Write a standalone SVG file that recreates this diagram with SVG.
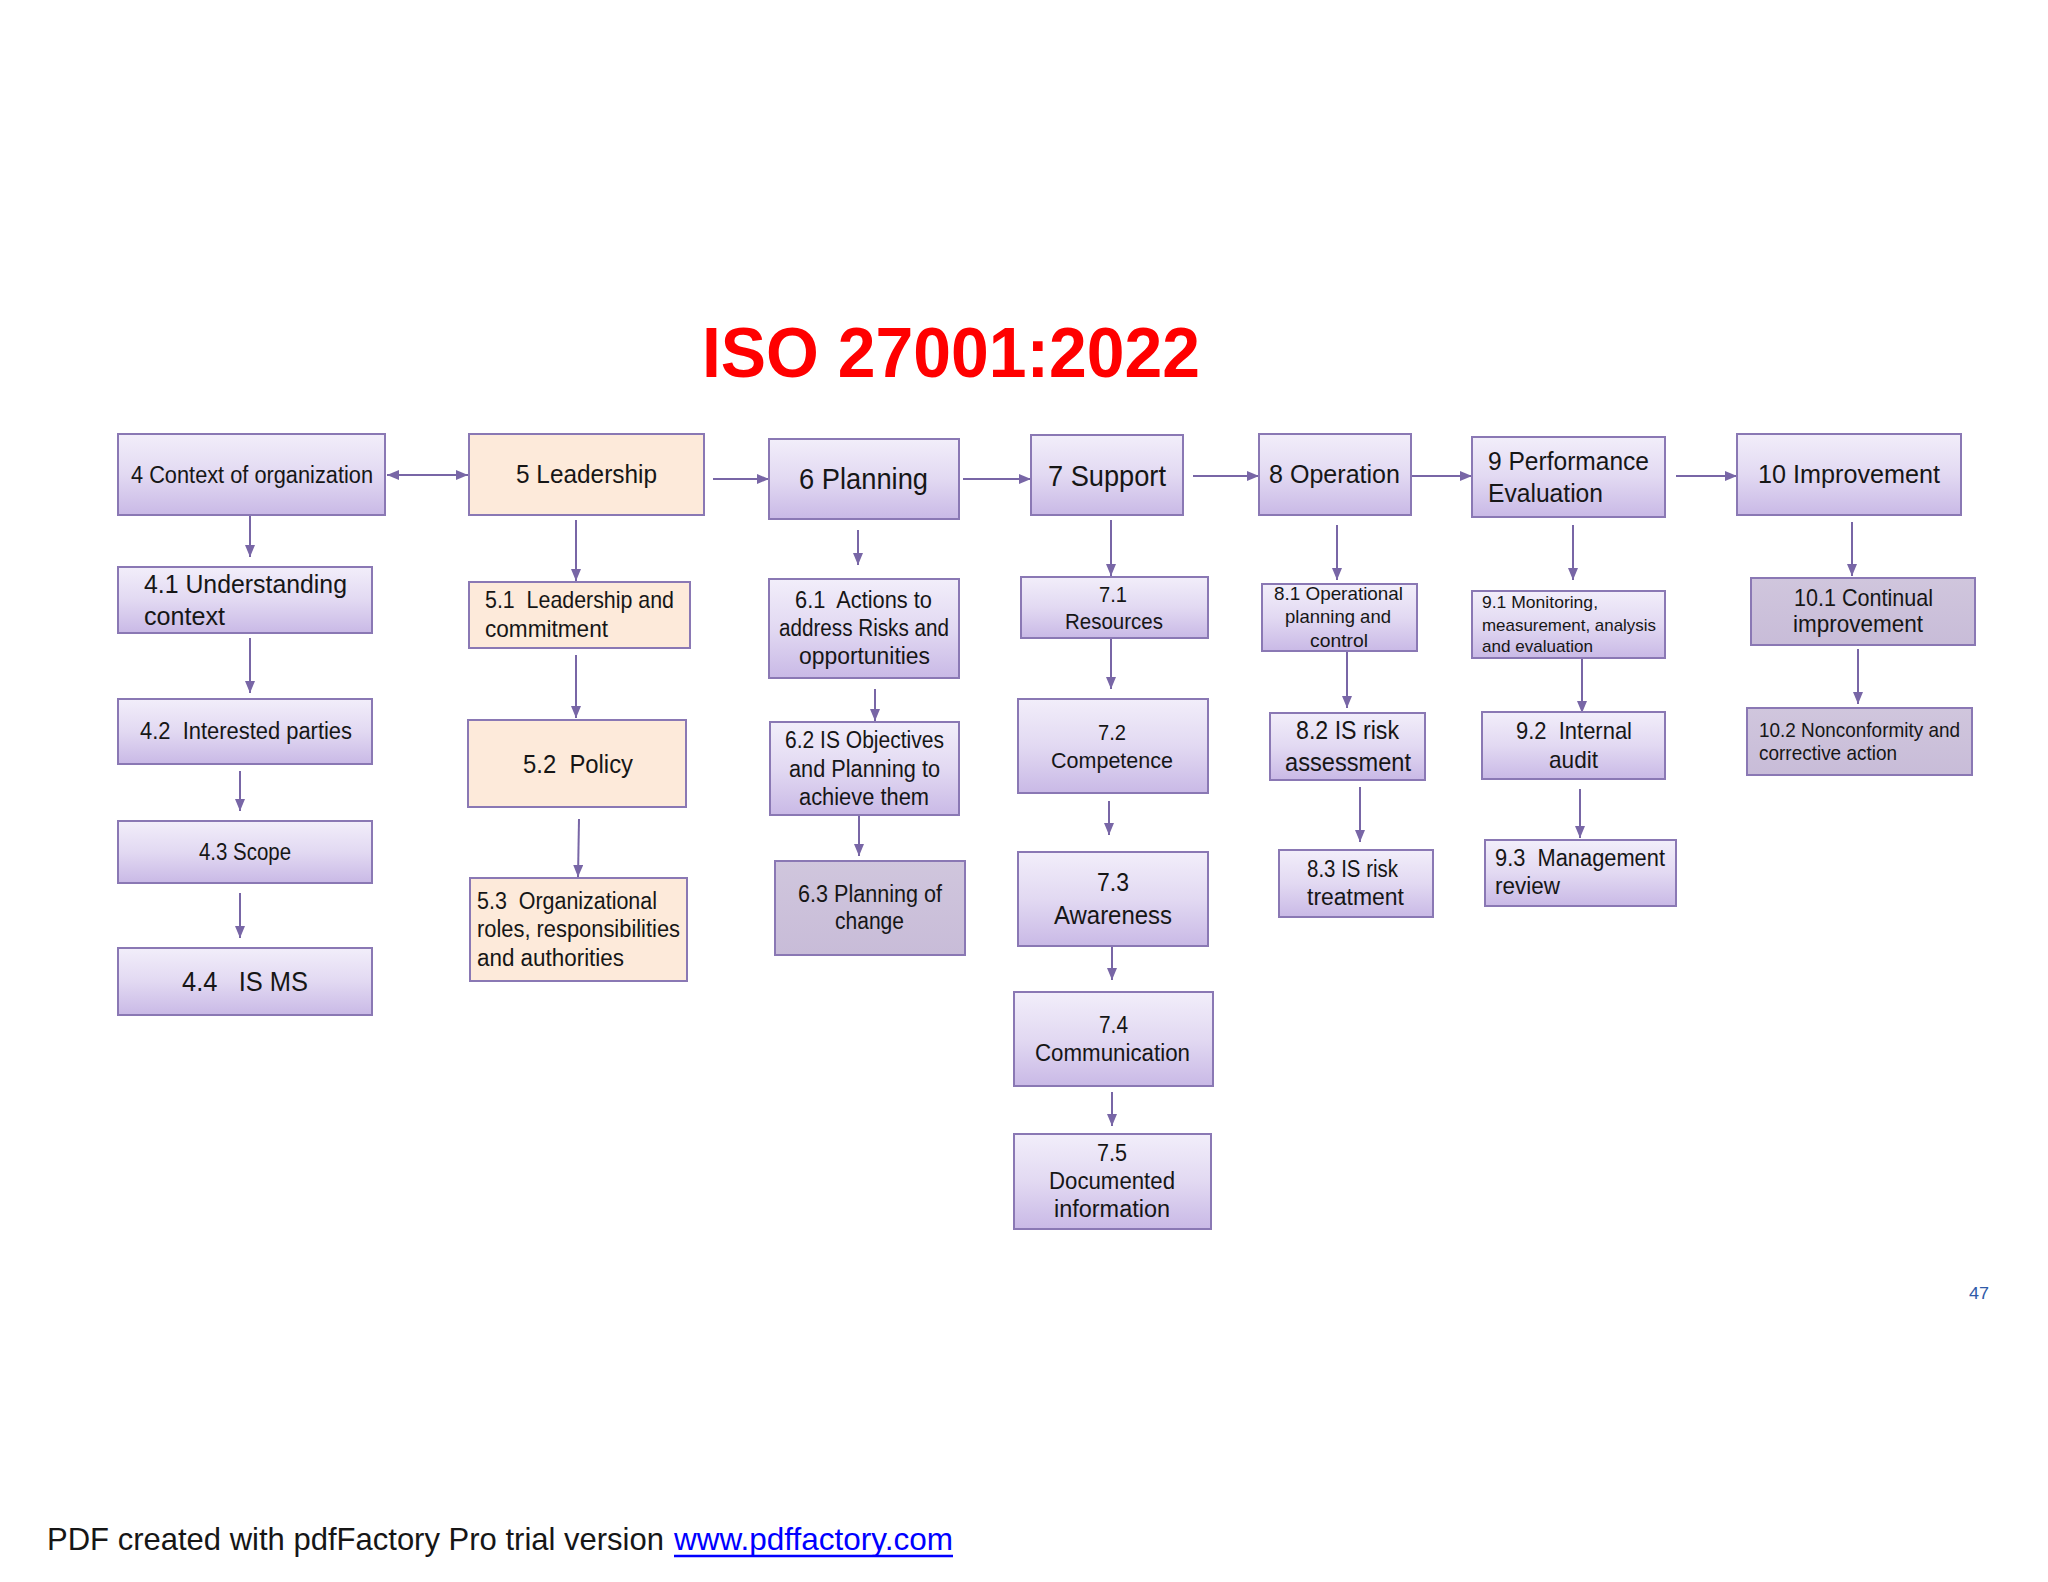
<svg xmlns="http://www.w3.org/2000/svg" width="2048" height="1582" viewBox="0 0 2048 1582">
<defs>
<linearGradient id="gp" x1="0" y1="0" x2="0" y2="1">
<stop offset="0" stop-color="#F2EEFA"/>
<stop offset="0.5" stop-color="#E2D9F2"/>
<stop offset="1" stop-color="#C9B9E6"/>
</linearGradient>
<linearGradient id="gg" x1="0" y1="0" x2="0" y2="1">
<stop offset="0" stop-color="#D0C6DD"/>
<stop offset="1" stop-color="#C8BCD8"/>
</linearGradient>
<marker id="ah" viewBox="0 0 12 10" refX="12" refY="5" markerWidth="12" markerHeight="10" markerUnits="userSpaceOnUse" orient="auto-start-reverse">
<path d="M0,0 L12,5 L0,10 z" fill="#7866A6"/>
</marker>
</defs>
<style>
.p{fill:url(#gp);stroke:#8A78B4;stroke-width:2}
.o{fill:#FDEADA;stroke:#8A78B4;stroke-width:2}
.g{fill:url(#gg);stroke:#8A78B4;stroke-width:2}
text{font-family:"Liberation Sans",Arial,sans-serif;fill:#161616;white-space:pre}
.c line{stroke:#7866A6;stroke-width:2;fill:none;marker-end:url(#ah)}
</style>
<rect width="2048" height="1582" fill="#FFFFFF"/>
<text x="702" y="377" font-size="70" font-weight="bold" textLength="498" lengthAdjust="spacingAndGlyphs" style="fill:#FF0000">ISO 27001:2022</text>

<g class="c" id="connectors">
<line x1="387" y1="475" x2="468" y2="475" style="marker-start:url(#ah)"/>
<line x1="713" y1="479" x2="769" y2="479"/>
<line x1="963" y1="479" x2="1031" y2="479"/>
<line x1="1193" y1="476" x2="1259" y2="476"/>
<line x1="1412" y1="476" x2="1472" y2="476"/>
<line x1="1676" y1="476" x2="1737" y2="476"/>
<line x1="250" y1="515" x2="250" y2="557"/>
<line x1="250" y1="638" x2="250" y2="693"/>
<line x1="240" y1="771" x2="240" y2="811"/>
<line x1="240" y1="893" x2="240" y2="938"/>
<line x1="576" y1="520" x2="576" y2="581"/>
<line x1="576" y1="655" x2="576" y2="718"/>
<line x1="579" y1="819" x2="578" y2="877"/>
<line x1="858" y1="530" x2="858" y2="565"/>
<line x1="875" y1="689" x2="875" y2="721"/>
<line x1="859" y1="816" x2="859" y2="856"/>
<line x1="1111" y1="520" x2="1111" y2="576"/>
<line x1="1111" y1="638" x2="1111" y2="689"/>
<line x1="1109" y1="801" x2="1109" y2="835"/>
<line x1="1112" y1="946" x2="1112" y2="980"/>
<line x1="1112" y1="1092" x2="1112" y2="1126"/>
<line x1="1337" y1="525" x2="1337" y2="580"/>
<line x1="1347" y1="652" x2="1347" y2="708"/>
<line x1="1360" y1="787" x2="1360" y2="842"/>
<line x1="1573" y1="525" x2="1573" y2="580"/>
<line x1="1582" y1="659" x2="1582" y2="713"/>
<line x1="1580" y1="789" x2="1580" y2="838"/>
<line x1="1852" y1="522" x2="1852" y2="576"/>
<line x1="1858" y1="649" x2="1858" y2="704"/>
</g>

<g id="n4"><rect class="p" x="118" y="434" width="267" height="81"/>
<text x="131" y="483" font-size="23" textLength="242" lengthAdjust="spacingAndGlyphs">4 Context of organization</text></g>
<g id="n41"><rect class="p" x="118" y="567" width="254" height="66"/>
<text x="144" y="593" font-size="26" textLength="203" lengthAdjust="spacingAndGlyphs">4.1 Understanding</text>
<text x="144" y="625" font-size="26" textLength="81" lengthAdjust="spacingAndGlyphs">context</text></g>
<g id="n42"><rect class="p" x="118" y="699" width="254" height="65"/>
<text x="140" y="739" font-size="23" textLength="212" lengthAdjust="spacingAndGlyphs">4.2  Interested parties</text></g>
<g id="n43"><rect class="p" x="118" y="821" width="254" height="62"/>
<text x="199" y="860" font-size="24" textLength="92" lengthAdjust="spacingAndGlyphs">4.3 Scope</text></g>
<g id="n44"><rect class="p" x="118" y="948" width="254" height="67"/>
<text x="182" y="991" font-size="28" textLength="126" lengthAdjust="spacingAndGlyphs">4.4   IS MS</text></g>

<g id="n5"><rect class="o" x="469" y="434" width="235" height="81"/>
<text x="516" y="483" font-size="26" textLength="141" lengthAdjust="spacingAndGlyphs">5 Leadership</text></g>
<g id="n51"><rect class="o" x="469" y="582" width="221" height="66"/>
<text x="485" y="608" font-size="24" textLength="189" lengthAdjust="spacingAndGlyphs">5.1  Leadership and</text>
<text x="485" y="637" font-size="24" textLength="123" lengthAdjust="spacingAndGlyphs">commitment</text></g>
<g id="n52"><rect class="o" x="468" y="720" width="218" height="87"/>
<text x="523" y="773" font-size="26" textLength="110" lengthAdjust="spacingAndGlyphs">5.2  Policy</text></g>
<g id="n53"><rect class="o" x="470" y="878" width="217" height="103"/>
<text x="477" y="909" font-size="23" textLength="180" lengthAdjust="spacingAndGlyphs">5.3  Organizational</text>
<text x="477" y="937" font-size="23" textLength="203" lengthAdjust="spacingAndGlyphs">roles, responsibilities</text>
<text x="477" y="966" font-size="23" textLength="147" lengthAdjust="spacingAndGlyphs">and authorities</text></g>

<g id="n6"><rect class="p" x="769" y="439" width="190" height="80"/>
<text x="799" y="489" font-size="29" textLength="129" lengthAdjust="spacingAndGlyphs">6 Planning</text></g>
<g id="n61"><rect class="p" x="769" y="579" width="190" height="99"/>
<text x="795" y="608" font-size="23" textLength="137" lengthAdjust="spacingAndGlyphs">6.1  Actions to</text>
<text x="779" y="636" font-size="23" textLength="170" lengthAdjust="spacingAndGlyphs">address Risks and</text>
<text x="799" y="664" font-size="23" textLength="131" lengthAdjust="spacingAndGlyphs">opportunities</text></g>
<g id="n62"><rect class="p" x="770" y="722" width="189" height="93"/>
<text x="785" y="748" font-size="23" textLength="159" lengthAdjust="spacingAndGlyphs">6.2 IS Objectives</text>
<text x="789" y="777" font-size="23" textLength="151" lengthAdjust="spacingAndGlyphs">and Planning to</text>
<text x="799" y="805" font-size="23" textLength="130" lengthAdjust="spacingAndGlyphs">achieve them</text></g>
<g id="n63"><rect class="g" x="775" y="861" width="190" height="94"/>
<text x="798" y="902" font-size="23" textLength="144" lengthAdjust="spacingAndGlyphs">6.3 Planning of</text>
<text x="835" y="929" font-size="23" textLength="69" lengthAdjust="spacingAndGlyphs">change</text></g>

<g id="n7"><rect class="p" x="1031" y="435" width="152" height="80"/>
<text x="1048" y="486" font-size="29" textLength="118" lengthAdjust="spacingAndGlyphs">7 Support</text></g>
<g id="n71"><rect class="p" x="1021" y="577" width="187" height="61"/>
<text x="1099" y="602" font-size="22" textLength="28" lengthAdjust="spacingAndGlyphs">7.1</text>
<text x="1065" y="629" font-size="22" textLength="98" lengthAdjust="spacingAndGlyphs">Resources</text></g>
<g id="n72"><rect class="p" x="1018" y="699" width="190" height="94"/>
<text x="1098" y="740" font-size="22" textLength="28" lengthAdjust="spacingAndGlyphs">7.2</text>
<text x="1051" y="768" font-size="22" textLength="122" lengthAdjust="spacingAndGlyphs">Competence</text></g>
<g id="n73"><rect class="p" x="1018" y="852" width="190" height="94"/>
<text x="1097" y="891" font-size="26" textLength="32" lengthAdjust="spacingAndGlyphs">7.3</text>
<text x="1054" y="924" font-size="26" textLength="118" lengthAdjust="spacingAndGlyphs">Awareness</text></g>
<g id="n74"><rect class="p" x="1014" y="992" width="199" height="94"/>
<text x="1099" y="1033" font-size="23" textLength="29" lengthAdjust="spacingAndGlyphs">7.4</text>
<text x="1035" y="1061" font-size="23" textLength="155" lengthAdjust="spacingAndGlyphs">Communication</text></g>
<g id="n75"><rect class="p" x="1014" y="1134" width="197" height="95"/>
<text x="1097" y="1161" font-size="23" textLength="30" lengthAdjust="spacingAndGlyphs">7.5</text>
<text x="1049" y="1189" font-size="23" textLength="126" lengthAdjust="spacingAndGlyphs">Documented</text>
<text x="1054" y="1217" font-size="23" textLength="116" lengthAdjust="spacingAndGlyphs">information</text></g>

<g id="n8"><rect class="p" x="1259" y="434" width="152" height="81"/>
<text x="1269" y="483" font-size="26" textLength="131" lengthAdjust="spacingAndGlyphs">8 Operation</text></g>
<g id="n81"><rect class="p" x="1262" y="584" width="155" height="67"/>
<text x="1274" y="600" font-size="19" textLength="129" lengthAdjust="spacingAndGlyphs">8.1 Operational</text>
<text x="1285" y="623" font-size="19" textLength="106" lengthAdjust="spacingAndGlyphs">planning and</text>
<text x="1310" y="647" font-size="19" textLength="58" lengthAdjust="spacingAndGlyphs">control</text></g>
<g id="n82"><rect class="p" x="1270" y="713" width="155" height="67"/>
<text x="1296" y="739" font-size="25" textLength="103" lengthAdjust="spacingAndGlyphs">8.2 IS risk</text>
<text x="1285" y="771" font-size="25" textLength="126" lengthAdjust="spacingAndGlyphs">assessment</text></g>
<g id="n83"><rect class="p" x="1279" y="850" width="154" height="67"/>
<text x="1307" y="877" font-size="23" textLength="91" lengthAdjust="spacingAndGlyphs">8.3 IS risk</text>
<text x="1307" y="905" font-size="23" textLength="97" lengthAdjust="spacingAndGlyphs">treatment</text></g>

<g id="n9"><rect class="p" x="1472" y="437" width="193" height="80"/>
<text x="1488" y="470" font-size="26" textLength="161" lengthAdjust="spacingAndGlyphs">9 Performance</text>
<text x="1488" y="502" font-size="26" textLength="115" lengthAdjust="spacingAndGlyphs">Evaluation</text></g>
<g id="n91"><rect class="p" x="1472" y="591" width="193" height="67"/>
<text x="1482" y="608" font-size="17" textLength="116" lengthAdjust="spacingAndGlyphs">9.1 Monitoring,</text>
<text x="1482" y="631" font-size="17" textLength="174" lengthAdjust="spacingAndGlyphs">measurement, analysis</text>
<text x="1482" y="652" font-size="17" textLength="111" lengthAdjust="spacingAndGlyphs">and evaluation</text></g>
<g id="n92"><rect class="p" x="1482" y="712" width="183" height="67"/>
<text x="1516" y="739" font-size="24" textLength="116" lengthAdjust="spacingAndGlyphs">9.2  Internal</text>
<text x="1549" y="768" font-size="24" textLength="49" lengthAdjust="spacingAndGlyphs">audit</text></g>
<g id="n93"><rect class="p" x="1485" y="840" width="191" height="66"/>
<text x="1495" y="866" font-size="23" textLength="170" lengthAdjust="spacingAndGlyphs">9.3  Management</text>
<text x="1495" y="894" font-size="23" textLength="65" lengthAdjust="spacingAndGlyphs">review</text></g>

<g id="n10"><rect class="p" x="1737" y="434" width="224" height="81"/>
<text x="1758" y="483" font-size="26" textLength="182" lengthAdjust="spacingAndGlyphs">10 Improvement</text></g>
<g id="n101"><rect class="g" x="1751" y="578" width="224" height="67"/>
<text x="1794" y="606" font-size="24" textLength="139" lengthAdjust="spacingAndGlyphs">10.1 Continual</text>
<text x="1793" y="632" font-size="24" textLength="130" lengthAdjust="spacingAndGlyphs">improvement</text></g>
<g id="n102"><rect class="g" x="1747" y="708" width="225" height="67"/>
<text x="1759" y="737" font-size="21" textLength="201" lengthAdjust="spacingAndGlyphs">10.2 Nonconformity and</text>
<text x="1759" y="760" font-size="21" textLength="138" lengthAdjust="spacingAndGlyphs">corrective action</text></g>

<text x="1969" y="1299" font-size="17" textLength="20" lengthAdjust="spacingAndGlyphs" style="fill:#2F5AA8">47</text>
<text x="47" y="1550" font-size="32" textLength="617" lengthAdjust="spacingAndGlyphs">PDF created with pdfFactory Pro trial version</text>
<text x="674" y="1550" font-size="32" textLength="279" lengthAdjust="spacingAndGlyphs" style="fill:#0000FF">www.pdffactory.com</text>
<line x1="674" y1="1556" x2="953" y2="1556" stroke="#0000FF" stroke-width="2.5"/>
</svg>
